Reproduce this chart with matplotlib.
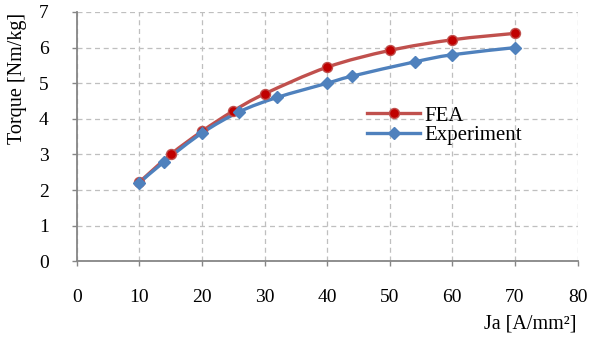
import numpy as np
import matplotlib
matplotlib.use("Agg")
import matplotlib.pyplot as plt
from matplotlib.path import Path
from matplotlib.patches import PathPatch
from matplotlib.lines import Line2D

plt.rcParams['font.family'] = ['Liberation Serif', 'DejaVu Serif']

# Current density [A/mm^2] and specific torque [Nm/kg]
fea_ja = [10, 15, 20, 25, 30, 40, 50, 60, 70]
fea_torque = [2.22, 3.0, 3.65, 4.22, 4.7, 5.45, 5.92, 6.22, 6.4]

exp_ja = [10, 14, 20, 26, 32, 40, 44, 54, 60, 70]
exp_torque = [2.2, 2.8, 3.6, 4.2, 4.6, 5.0, 5.2, 5.6, 5.8, 6.0]

x_ticks = [0, 10, 20, 30, 40, 50, 60, 70, 80]
y_ticks = [0, 1, 2, 3, 4, 5, 6, 7]

RED = '#C0504D'
RED_FACE = '#C00000'
BLUE = '#4F81BD'


def smooth_path(xs, ys):
    """Cubic Bezier path through the points (Catmull-Rom style tangents)."""
    pts = np.column_stack([xs, ys]).astype(float)
    n = len(pts)
    verts = [pts[0]]
    codes = [Path.MOVETO]
    for i in range(n - 1):
        p0 = pts[i - 1] if i > 0 else pts[i]
        p1 = pts[i]
        p2 = pts[i + 1]
        p3 = pts[i + 2] if i + 2 < n else pts[i + 1]
        c1 = p1 + (p2 - p0) / 6.0
        c2 = p2 - (p3 - p1) / 6.0
        verts += [c1, c2, p2]
        codes += [Path.CURVE4] * 3
    return Path(verts, codes)


fig = plt.figure(figsize=(5.89, 3.37), dpi=100)
ax = fig.add_axes([76.7 / 589, 1 - 261.3 / 337, (577.5 - 76.7) / 589, (261.3 - 12) / 337])

ax.set_xlim(0, 80)
ax.set_ylim(0, 7)
ax.set_xticks(x_ticks)
ax.set_yticks(y_ticks)

ax.grid(True, color='#BFBFBF', linestyle=(0, (4, 3)), linewidth=0.9)
ax.set_axisbelow(True)
for s in ['top', 'right']:
    ax.spines[s].set_visible(False)
for s in ['left', 'bottom']:
    ax.spines[s].set_color('#868686')
    ax.spines[s].set_linewidth(1.3)
ax.tick_params(axis='both', direction='out', length=3.6, width=1.0, color='#868686',
               labelsize=14)
ax.tick_params(axis='x', pad=16.5)
ax.tick_params(axis='y', pad=16.5)

# smooth curves
ax.add_patch(PathPatch(smooth_path(fea_ja, fea_torque), facecolor='none', edgecolor=RED,
                       linewidth=2.4, zorder=3, capstyle='round'))
ax.add_patch(PathPatch(smooth_path(exp_ja, exp_torque), facecolor='none', edgecolor=BLUE,
                       linewidth=2.4, zorder=4, capstyle='round'))

# markers
ax.plot(fea_ja, fea_torque, linestyle='none', marker='o', markersize=7.2,
        markerfacecolor=RED_FACE, markeredgecolor=RED, markeredgewidth=1.0, zorder=5)
ax.plot(exp_ja, exp_torque, linestyle='none', marker='D', markersize=6.5,
        markerfacecolor=BLUE, markeredgecolor=BLUE, markeredgewidth=1.0, zorder=6)

handles = [
    Line2D([], [], color=RED, linewidth=2.4, marker='o', markersize=7.2,
           markerfacecolor=RED_FACE, markeredgecolor=RED),
    Line2D([], [], color=BLUE, linewidth=2.4, marker='D', markersize=6,
           markerfacecolor=BLUE, markeredgecolor=BLUE),
]
ax.legend(handles, ['FEA', 'Experiment'], loc='upper left',
          bbox_to_anchor=(367 / 589, 1 - 106 / 337), bbox_transform=fig.transFigure,
          frameon=False, fontsize=15, handlelength=2.55, handletextpad=0.2,
          labelspacing=0.0, borderpad=0, borderaxespad=0)

fig.text(18 / 589, 1 - 78 / 337, 'Torque [Nm/kg]', rotation=90, ha='center', va='center',
         fontsize=14.5)
fig.text(576 / 589, 1 - 324 / 337, 'Ja [A/mm²]', ha='right', va='center', fontsize=14.5)

fig.savefig('out.png', dpi=100)
